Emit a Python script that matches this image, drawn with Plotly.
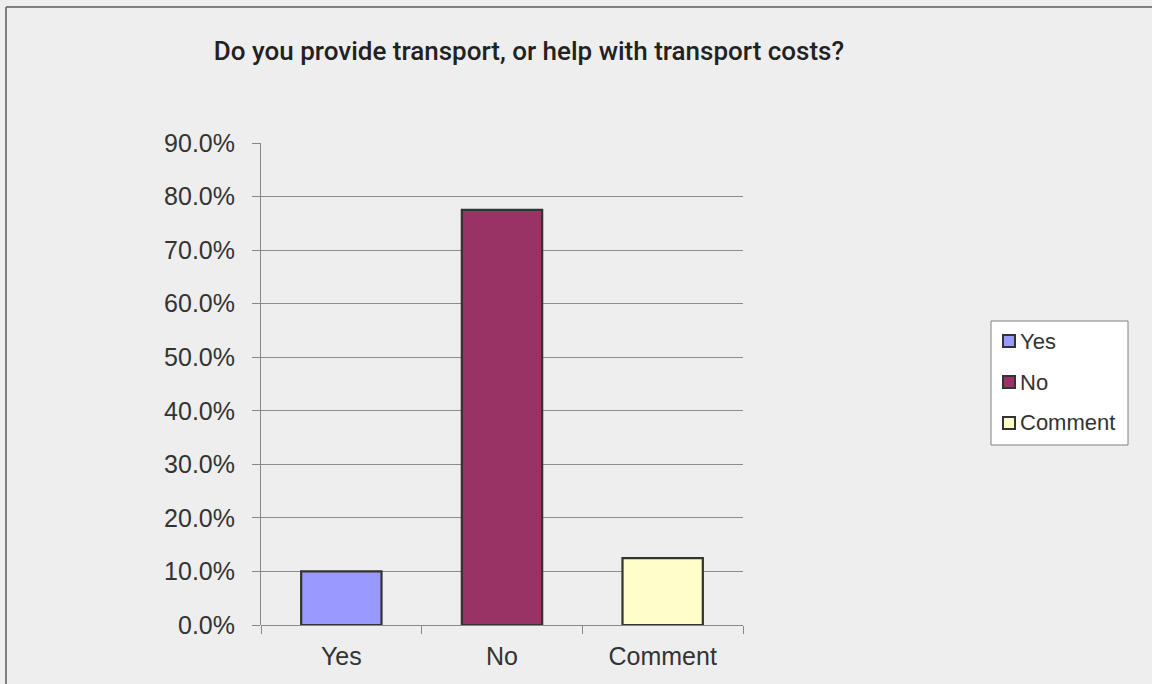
import plotly.graph_objects as go

# Survey responses: share of respondents per answer
categories = ["Yes", "No", "Comment"]
shares = [0.100, 0.775, 0.125]
bar_colors = ["#9999ff", "#993366", "#ffffcc"]
y_ticks = [0.0, 0.1, 0.2, 0.3, 0.4, 0.5, 0.6, 0.7, 0.8, 0.9]
y_tick_labels = ["0.0%", "10.0%", "20.0%", "30.0%", "40.0%", "50.0%", "60.0%", "70.0%", "80.0%", "90.0%"]

W, H = 1152, 684
ML, MR, MT, MB = 261, 409, 143, 59
PW, PH = W - ML - MR, H - MT - MB


def px_x(px):
    """Pixel column -> paper x."""
    return (px - ML) / PW


def px_y(py):
    """Pixel row (from top) -> paper y."""
    return (H - MB - py) / PH


fig = go.Figure()
for cat, val, col in zip(categories, shares, bar_colors):
    fig.add_trace(go.Bar(
        x=[cat], y=[val], name=cat, width=0.5, showlegend=False,
        marker=dict(color=col, line=dict(color="#333333", width=2.2)),
    ))

# Outer chart frame (left and top edges)
fig.add_shape(type="line", xref="paper", yref="paper", x0=px_x(6), x1=3, y0=px_y(7), y1=px_y(7),
              line=dict(color="#808080", width=2))
fig.add_shape(type="line", xref="paper", yref="paper", x0=px_x(6), x1=px_x(6), y0=px_y(7), y1=-1,
              line=dict(color="#808080", width=2))

# Legend box with swatches and labels
fig.add_shape(type="rect", xref="paper", yref="paper",
              x0=px_x(991), x1=px_x(1128), y0=px_y(321), y1=px_y(445),
              line=dict(color="#808080", width=1), fillcolor="#ffffff", layer="below")
item_rows = [341, 382, 423]
for cat, col, row in zip(categories, bar_colors, item_rows):
    fig.add_shape(type="rect", xref="paper", yref="paper",
                  x0=px_x(1003), x1=px_x(1015), y0=px_y(row - 6), y1=px_y(row + 6),
                  line=dict(color="#333333", width=2), fillcolor=col)
    fig.add_annotation(xref="paper", yref="paper", x=px_x(1018), y=px_y(row),
                       xanchor="left", yanchor="middle", showarrow=False,
                       text=cat, font=dict(size=22, color="#333333"))

fig.update_layout(
    width=W, height=H,
    margin=dict(l=ML, r=MR, t=MT, b=MB),
    paper_bgcolor="#eeeeee", plot_bgcolor="#eeeeee",
    barmode="overlay",
    showlegend=False,
    font=dict(family="Liberation Sans, Arial, sans-serif", size=21, color="#333333"),
    title=dict(
        text="Do you provide transport, or help with transport costs?",
        font=dict(family="Roboto, Liberation Sans, Arial", size=26, weight=500, color="#222222"),
        x=529 / W, xref="container", xanchor="center",
        y=1 - 51 / H, yref="container", yanchor="middle",
    ),
    xaxis=dict(
        type="category", tickson="boundaries",
        ticks="outside", ticklen=8, tickcolor="#888888",
        showline=False, showgrid=False,
        ticklabelstandoff=14,
        tickfont=dict(size=25),
    ),
    yaxis=dict(
        range=[0, 0.9], tickvals=y_ticks, ticktext=y_tick_labels,
        ticks="outside", ticklen=8, tickcolor="#888888",
        showline=True, linecolor="#888888", linewidth=1,
        showgrid=True, gridcolor="#8c8c8c", gridwidth=1,
        zeroline=True, zerolinecolor="#888888", zerolinewidth=1,
        ticklabelstandoff=12,
        tickfont=dict(size=25),
    ),
)

fig.write_html("out.html")
